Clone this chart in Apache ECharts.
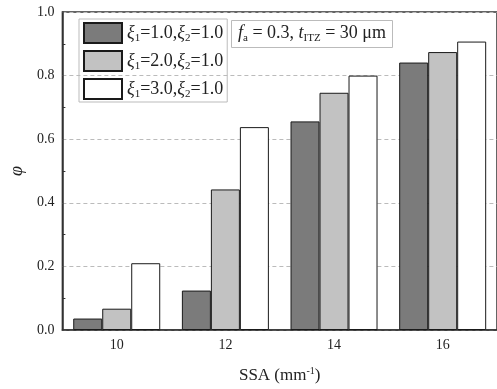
<!DOCTYPE html>
<html><head><meta charset="utf-8">
<script src="https://cdn.jsdelivr.net/npm/echarts@6/dist/echarts.min.js"></script>
<style>html,body{margin:0;padding:0;background:#fff}#c{width:497px;height:389px}</style>
</head><body><div id="c"></div>
<script>
var categories = ['10', '12', '14', '16'];
var seriesNames = ['ξ1=1.0,ξ2=1.0', 'ξ1=2.0,ξ2=1.0', 'ξ1=3.0,ξ2=1.0'];
var xi1 = ['1.0', '2.0', '3.0'];
var xi2 = ['1.0', '1.0', '1.0'];
var s1 = [0.036, 0.124, 0.656, 0.841];
var s2 = [0.067, 0.442, 0.746, 0.874];
var s3 = [0.210, 0.638, 0.800, 0.907];
var seriesData = [s1, s2, s3];
var colors = ['#7b7b7b', '#c2c2c2', '#ffffff'];

var FONT = 'Liberation Serif';
var chart = echarts.init(document.getElementById('c'));
var series = seriesNames.map(function (n, i) {
  return {
    name: n, type: 'bar', data: seriesData[i], barWidth: 29, barGap: '0%',
    itemStyle: { color: colors[i], borderColor: '#1a1a1a', borderWidth: 1 }
  };
});
var richSub = {
  i: { fontFamily: FONT, fontStyle: 'italic', fontSize: 18, color: '#222' },
  n: { fontFamily: FONT, fontSize: 18, color: '#222' },
  s: { fontFamily: FONT, fontSize: 11, color: '#222', padding: [10, 0, 0, 0] }
};
chart.setOption({
  animation: false,
  backgroundColor: '#fff',
  textStyle: { fontFamily: FONT, color: '#222' },
  title: {
    text: '{i|f}{s|a}{n| = 0.3, }{i|t}{s|ITZ}{n| = 30 μm}',
    left: 231, top: 19, padding: [4, 7, 4, 7],
    borderColor: '#bbb', borderWidth: 1,
    textStyle: { fontFamily: FONT, fontWeight: 'normal', rich: richSub }
  },
  legend: {
    orient: 'vertical', left: 79, top: 19,
    padding: [3, 4, 2, 4], itemGap: 6,
    borderColor: '#bbb', borderWidth: 1,
    itemWidth: 38, itemHeight: 20,
    icon: 'rect',
    data: seriesNames,
    formatter: function (name) {
      var k = seriesNames.indexOf(name);
      return '{i|ξ}{s|1}{n|=' + xi1[k] + ',}{i|ξ}{s|2}{n|=' + xi2[k] + '}';
    },
    textStyle: { fontFamily: FONT, padding: [0, 0, 0, 0], rich: richSub }
  },
  grid: { left: 61, top: 12, right: -4, bottom: 54, show: true, borderColor: '#333', borderWidth: 1.5 },
  xAxis: [{
    type: 'category', data: categories,
    name: 'SSA (mm{sup|-1})', nameLocation: 'middle', nameGap: 36,
    nameTextStyle: { fontFamily: FONT, fontSize: 17, color: '#222',
      rich: { sup: { fontFamily: FONT, fontSize: 10, color: '#222', padding: [0, 0, 9, 0] } } },
    axisLine: { lineStyle: { color: '#333', width: 1.5 } },
    axisTick: { inside: true, alignWithLabel: true, length: 5, lineStyle: { color: '#333' } },
    axisLabel: { fontFamily: FONT, fontSize: 14, color: '#222', margin: 8 }
  }, {
    type: 'category', data: categories, position: 'bottom',
    axisLine: { show: false },
    axisTick: { inside: true, length: 3, lineStyle: { color: '#333' } },
    axisLabel: { show: false }
  }],
  yAxis: {
    type: 'value', min: 0, max: 1, interval: 0.2,
    name: 'φ', nameLocation: 'middle', nameGap: 34,
    nameTextStyle: { fontFamily: FONT, fontStyle: 'italic', fontSize: 18, color: '#222' },
    axisLine: { show: true, lineStyle: { color: '#333', width: 1.5 } },
    axisTick: { inside: true, length: 6, lineStyle: { color: '#333' } },
    minorTick: { show: true, splitNumber: 2, length: 3, lineStyle: { color: '#333' } },
    axisLabel: { fontFamily: FONT, fontSize: 14, color: '#222', margin: 8,
      formatter: function (v) { return v.toFixed(1); } },
    splitLine: { show: true, lineStyle: { color: '#bbb', type: [4, 3], width: 1 } }
  },
  series: series
});
</script></body></html>
